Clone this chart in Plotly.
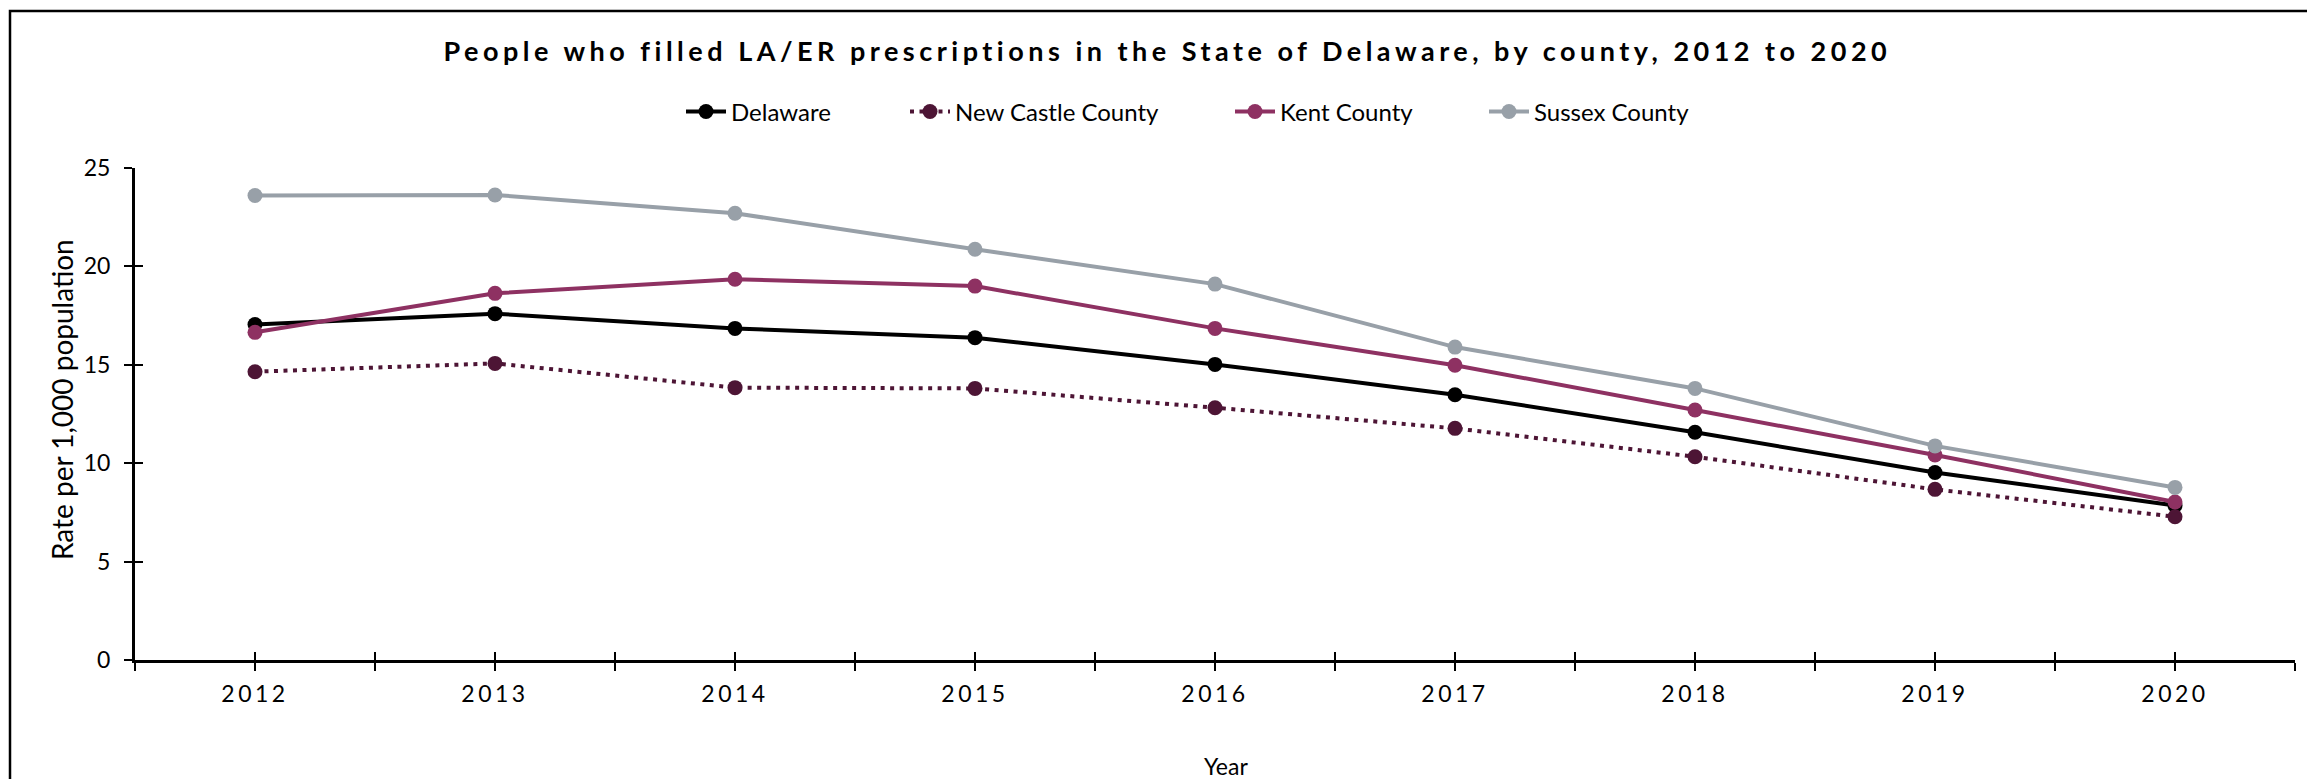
import plotly.graph_objects as go

years = [2012, 2013, 2014, 2015, 2016, 2017, 2018, 2019, 2020]
delaware = [17.05, 17.6, 16.85, 16.38, 15.02, 13.48, 11.57, 9.53, 7.85]
new_castle = [14.65, 15.07, 13.84, 13.8, 12.82, 11.77, 10.33, 8.67, 7.28]
kent = [16.65, 18.63, 19.35, 19.0, 16.85, 14.98, 12.7, 10.42, 8.03]
sussex = [23.6, 23.63, 22.7, 20.87, 19.1, 15.9, 13.8, 10.88, 8.77]

series_names = ["Delaware", "New Castle County", "Kent County", "Sussex County"]
series_values = [delaware, new_castle, kent, sussex]
series_colors = ["#000000", "#4d1535", "#8e3162", "#98a0a8"]
series_dash = ["solid", "4px,5.5px", "solid", "solid"]
legend_ids = ["legend", "legend2", "legend3", "legend4"]

title_text = "People who filled LA/ER prescriptions in the State of Delaware, by county, 2012 to 2020"
y_title = "Rate per 1,000 population"
x_title = "Year"

FONT = "Lato"
L, R, T, B = 135, 12, 168, 119
W, H = 2307, 779
PW = W - L - R
PH = H - T - B

fig = go.Figure()
for name, vals, col, dash, lg in zip(series_names, series_values, series_colors, series_dash, legend_ids):
    fig.add_trace(go.Scatter(
        x=years, y=vals, name=name, mode="lines+markers",
        line=dict(color=col, width=4, dash=dash),
        marker=dict(color=col, size=15),
        legend=lg,
    ))

# invisible trace to enable overlay axes (for crossing ticks)
fig.add_trace(go.Scatter(x=years, y=delaware, xaxis="x2", yaxis="y2",
                         mode="lines", line=dict(width=0, color="rgba(0,0,0,0)"),
                         showlegend=False, hoverinfo="skip"))

half_ticks = [y - 0.5 for y in years] + [years[-1] + 0.5]
all_ticks = sorted(set(half_ticks + years))
tick_text = [f"<span style='letter-spacing:3.5px'>{int(t)}</span>" if t == int(t) else "" for t in all_ticks]
xr = [years[0] - 0.5, years[-1] + 0.5]

# legend text start positions (px from left edge of figure)
legend_text_px = [731, 955, 1280, 1534]
TEXT_OFFSET = 50
legend_layouts = {}
for lg, px in zip(legend_ids, legend_text_px):
    legend_layouts[lg] = dict(orientation="h", x=(px - TEXT_OFFSET - L) / PW, xanchor="left",
                              y=1.114, yanchor="middle", bgcolor="rgba(0,0,0,0)", borderwidth=0,
                              font=dict(family=FONT, size=24), itemwidth=40)

fig.update_layout(
    template="none",
    width=W, height=H,
    margin=dict(l=L, r=R, t=T, b=B, autoexpand=False),
    paper_bgcolor="white", plot_bgcolor="white",
    font=dict(family=FONT, color="#000000", size=22),
    title=dict(text=f"<span style='letter-spacing:4.5px'><b>{title_text}</b></span>",
               x=0.506, xref="container", xanchor="center",
               y=1 - 52 / 779, yref="container", yanchor="middle",
               font=dict(family=FONT, size=27, color="#000000")),
    xaxis=dict(range=xr, tickmode="array", tickvals=all_ticks, ticktext=tick_text,
               ticks="outside", ticklen=8, tickwidth=2, tickcolor="#000000",
               showline=True, linecolor="#000000", linewidth=3, automargin=False,
               showgrid=False, zeroline=False, ticklabelstandoff=3,
               tickfont=dict(family=FONT, size=23)),
    yaxis=dict(range=[0, 25], tickmode="linear", tick0=0, dtick=5,
               ticks="outside", ticklen=8, tickwidth=2, tickcolor="#000000",
               showline=True, linecolor="#000000", linewidth=3, automargin=False,
               showgrid=False, zeroline=False, ticklabelstandoff=9,
               tickfont=dict(family=FONT, size=23)),
    xaxis2=dict(overlaying="x", anchor="y2", range=xr, tickmode="array", tickvals=all_ticks,
                ticks="inside", ticklen=8, tickwidth=2, tickcolor="#000000", automargin=False,
                showticklabels=False, showline=False, showgrid=False, zeroline=False, side="bottom"),
    yaxis2=dict(overlaying="y", anchor="x2", range=[0, 25], tickmode="linear", tick0=0, dtick=5,
                ticks="inside", ticklen=8, tickwidth=2, tickcolor="#000000", automargin=False,
                showticklabels=False, showline=False, showgrid=False, zeroline=False, side="left"),
    annotations=[
        dict(text=y_title, textangle=-90, xref="paper", yref="paper",
             x=(62 - L) / PW, y=(H - B - 400) / PH, xanchor="center", yanchor="middle",
             showarrow=False, font=dict(family=FONT, size=28, color="#000000")),
        dict(text=x_title, xref="paper", yref="paper",
             x=(1226 - L) / PW, y=(H - B - 766) / PH, xanchor="center", yanchor="middle",
             showarrow=False, font=dict(family=FONT, size=23, color="#000000")),
    ],
    shapes=[dict(type="rect", xref="paper", yref="paper",
                 x0=(10 - L) / PW, x1=1.05, y0=-0.4, y1=(H - B - 11) / PH,
                 line=dict(color="#000000", width=2.5), fillcolor="rgba(0,0,0,0)", layer="below")],
    showlegend=True,
    hovermode=False,
    **legend_layouts,
)

fig.write_html("out.html", config={"displayModeBar": False},
               post_script="document.body.style.margin='0px';document.body.style.overflow='hidden';")
